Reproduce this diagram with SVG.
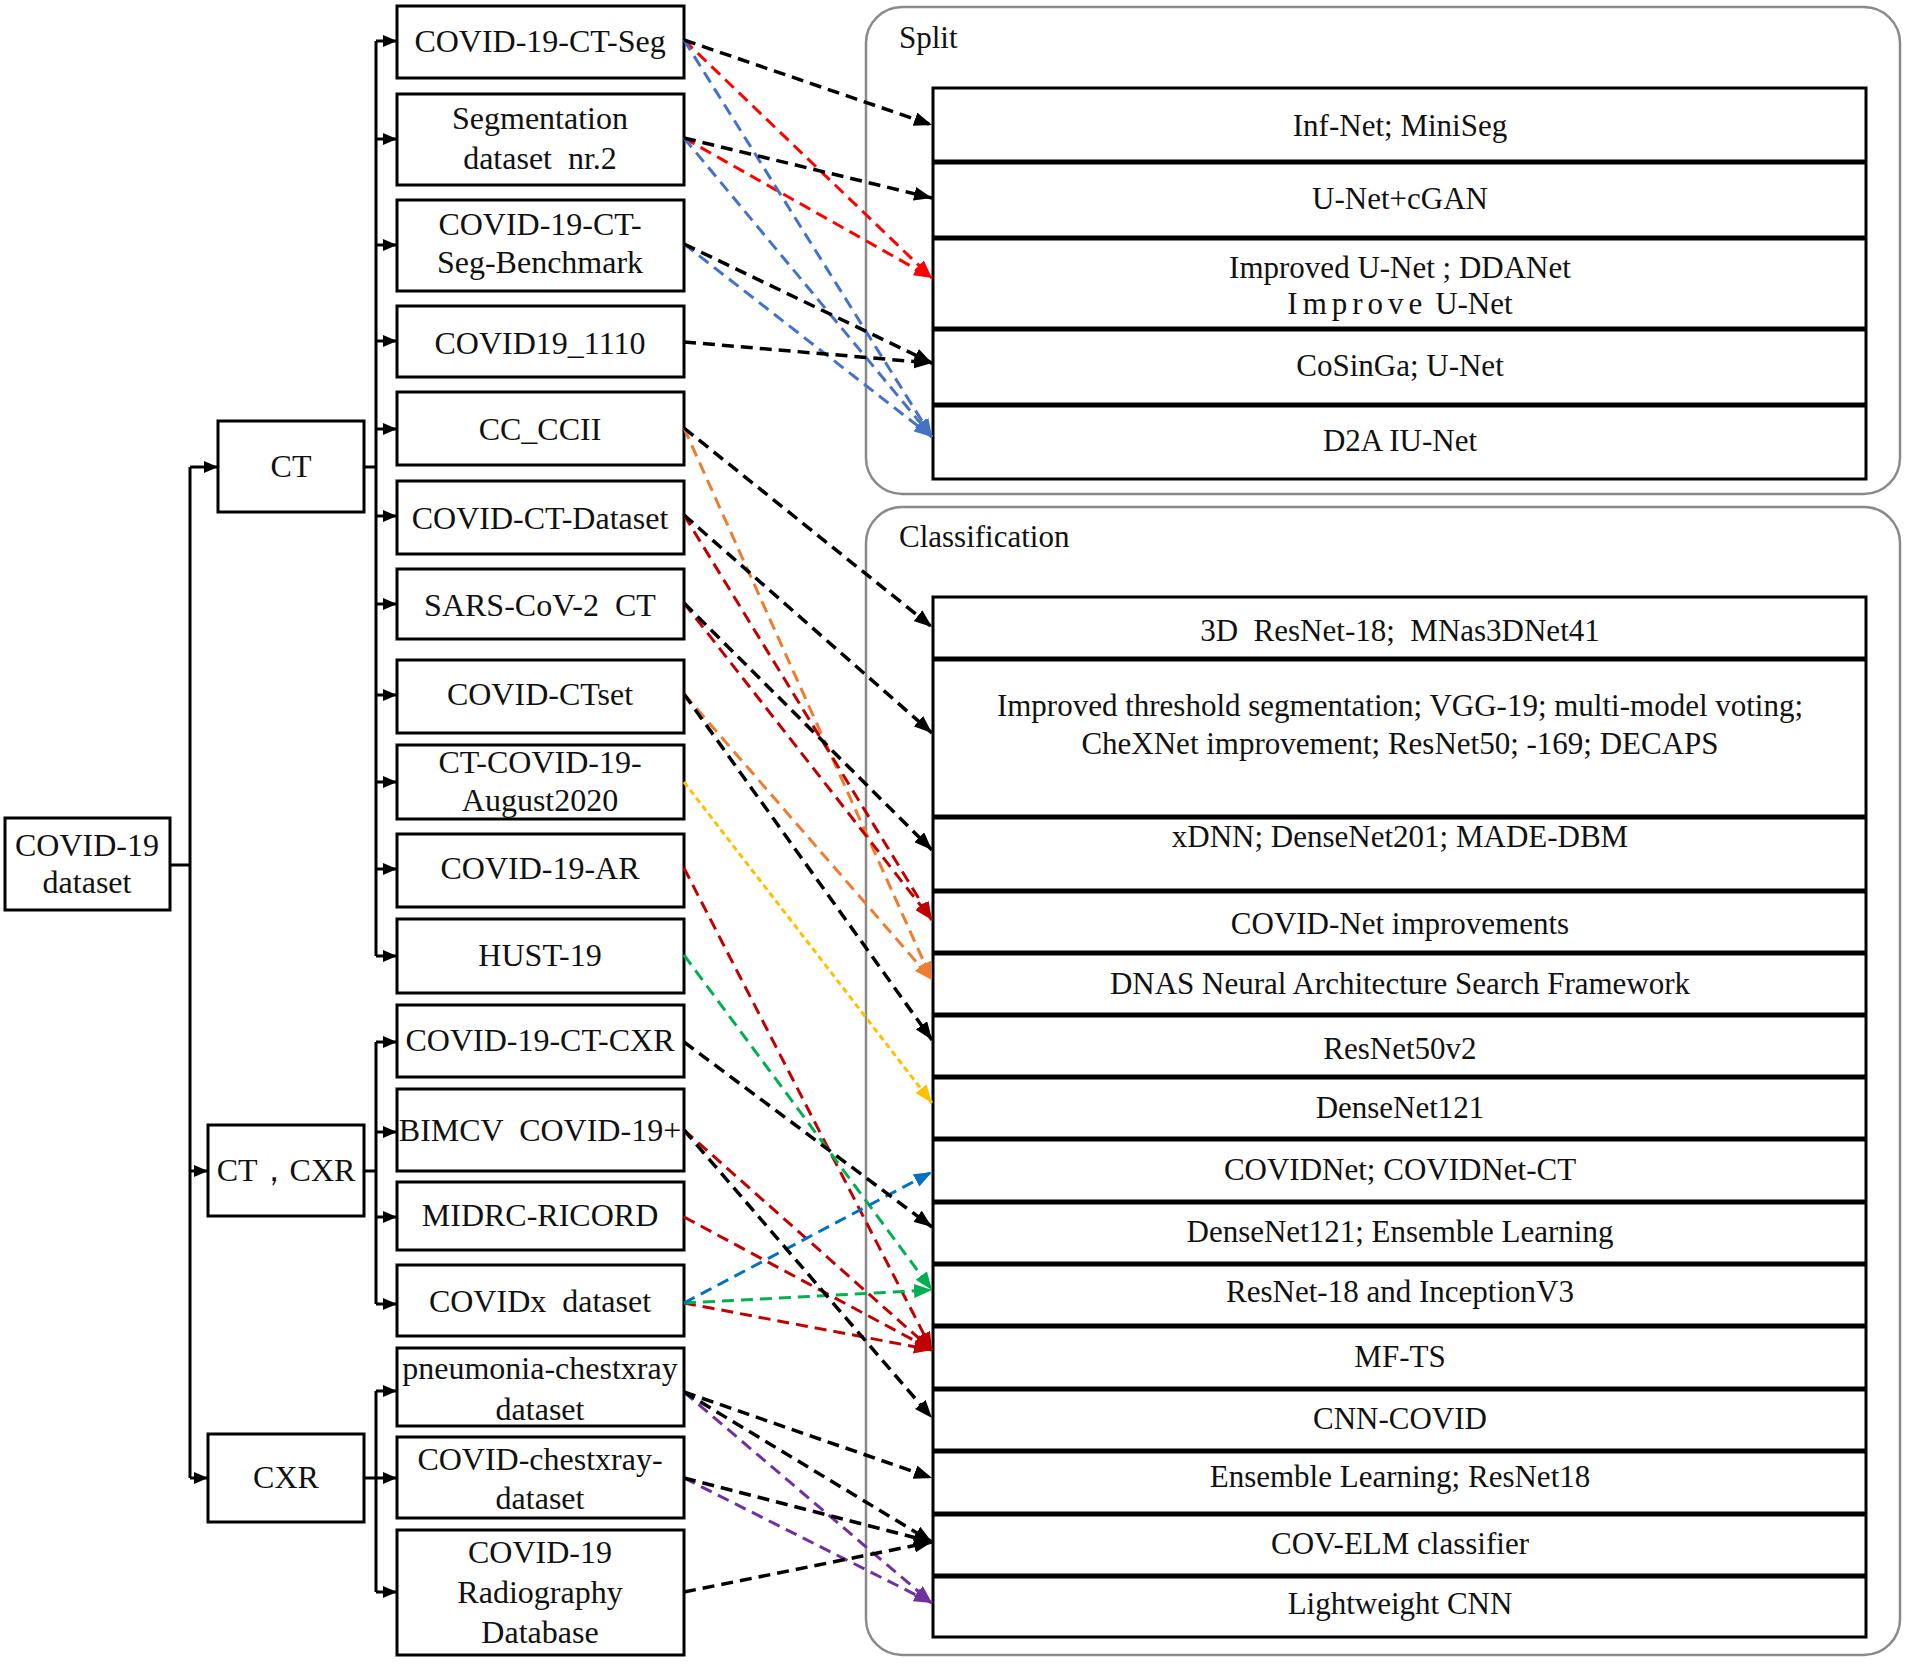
<svg xmlns="http://www.w3.org/2000/svg" width="1910" height="1665" viewBox="0 0 1910 1665">
<style>
text{font-family:"Liberation Serif","Times New Roman",serif;fill:#111;white-space:pre}
.l{font-size:32px;text-anchor:middle;dominant-baseline:central}
.r{font-size:31px;text-anchor:middle;dominant-baseline:central}
.t{font-size:31px;text-anchor:start;dominant-baseline:central}
.box{fill:#fff;stroke:#000;stroke-width:3}
.row{fill:#fff;stroke:#000;stroke-width:3}
.sep{stroke:#000;stroke-width:5}
.cont{fill:none;stroke:#8a8a8a;stroke-width:2.5}
.tree{fill:none;stroke:#000;stroke-width:3}
.d{fill:none;stroke-width:3;stroke-dasharray:12 7}
.k{stroke:#000;stroke-width:3.5;marker-end:url(#mk)}
.rd{stroke:#ff0000;marker-end:url(#mr)}
.bl{stroke:#4472c4;marker-end:url(#mb)}
.dr{stroke:#c00000;marker-end:url(#md)}
.or{stroke:#ed7d31;marker-end:url(#mo)}
.ye{stroke:#ffc000;stroke-dasharray:6 4;marker-end:url(#my)}
.gr{stroke:#00b050;marker-end:url(#mg)}
.bu{stroke:#0070c0;marker-end:url(#mu)}
.pu{stroke:#7030a0;marker-end:url(#mp)}
</style>
<defs>
<marker id="ta" markerUnits="userSpaceOnUse" markerWidth="14" markerHeight="12" refX="14" refY="6" orient="auto"><path d="M0,0L14,6L0,12z" fill="#000"/></marker>
<marker id="mk" markerUnits="userSpaceOnUse" markerWidth="18" markerHeight="14" refX="18" refY="7" orient="auto"><path d="M0,0L18,7L0,14z" fill="#000"/></marker>
<marker id="mr" markerUnits="userSpaceOnUse" markerWidth="18" markerHeight="14" refX="18" refY="7" orient="auto"><path d="M0,0L18,7L0,14z" fill="#ff0000"/></marker>
<marker id="mb" markerUnits="userSpaceOnUse" markerWidth="18" markerHeight="14" refX="18" refY="7" orient="auto"><path d="M0,0L18,7L0,14z" fill="#4472c4"/></marker>
<marker id="md" markerUnits="userSpaceOnUse" markerWidth="18" markerHeight="14" refX="18" refY="7" orient="auto"><path d="M0,0L18,7L0,14z" fill="#c00000"/></marker>
<marker id="mo" markerUnits="userSpaceOnUse" markerWidth="18" markerHeight="14" refX="18" refY="7" orient="auto"><path d="M0,0L18,7L0,14z" fill="#ed7d31"/></marker>
<marker id="my" markerUnits="userSpaceOnUse" markerWidth="18" markerHeight="14" refX="18" refY="7" orient="auto"><path d="M0,0L18,7L0,14z" fill="#ffc000"/></marker>
<marker id="mg" markerUnits="userSpaceOnUse" markerWidth="18" markerHeight="14" refX="18" refY="7" orient="auto"><path d="M0,0L18,7L0,14z" fill="#00b050"/></marker>
<marker id="mu" markerUnits="userSpaceOnUse" markerWidth="18" markerHeight="14" refX="18" refY="7" orient="auto"><path d="M0,0L18,7L0,14z" fill="#0070c0"/></marker>
<marker id="mp" markerUnits="userSpaceOnUse" markerWidth="18" markerHeight="14" refX="18" refY="7" orient="auto"><path d="M0,0L18,7L0,14z" fill="#7030a0"/></marker>
</defs>
<rect width="1910" height="1665" fill="#fff"/>

<g id="split">
<rect class="cont" x="866" y="7" width="1034" height="487" rx="36"/>
<text class="t" x="899" y="37">Split</text>
<rect class="row" x="933" y="88" width="933" height="391"/>
<line class="sep" x1="933" y1="162" x2="1866" y2="162"/>
<line class="sep" x1="933" y1="238" x2="1866" y2="238"/>
<line class="sep" x1="933" y1="329" x2="1866" y2="329"/>
<line class="sep" x1="933" y1="405" x2="1866" y2="405"/>
</g>
<g id="s1"><text class="r" x="1400" y="125">Inf-Net; MiniSeg</text></g>
<g id="s2"><text class="r" x="1400" y="198">U-Net+cGAN</text></g>
<g id="s3"><text class="r" x="1400" y="267">Improved U-Net ; DDANet</text><text class="r" x="1400" y="303"><tspan letter-spacing="5">Improve</tspan> U-Net</text></g>
<g id="s4"><text class="r" x="1400" y="365">CoSinGa; U-Net</text></g>
<g id="s5"><text class="r" x="1400" y="440">D2A IU-Net</text></g>

<g id="classification">
<rect class="cont" x="866" y="507" width="1034" height="1148" rx="36"/>
<text class="t" x="899" y="536">Classification</text>
<rect class="row" x="933" y="597" width="933" height="1040"/>
<line class="sep" x1="933" y1="659" x2="1866" y2="659"/>
<line class="sep" x1="933" y1="817" x2="1866" y2="817"/>
<line class="sep" x1="933" y1="891" x2="1866" y2="891"/>
<line class="sep" x1="933" y1="953" x2="1866" y2="953"/>
<line class="sep" x1="933" y1="1015" x2="1866" y2="1015"/>
<line class="sep" x1="933" y1="1077" x2="1866" y2="1077"/>
<line class="sep" x1="933" y1="1139" x2="1866" y2="1139"/>
<line class="sep" x1="933" y1="1202" x2="1866" y2="1202"/>
<line class="sep" x1="933" y1="1264" x2="1866" y2="1264"/>
<line class="sep" x1="933" y1="1326" x2="1866" y2="1326"/>
<line class="sep" x1="933" y1="1389" x2="1866" y2="1389"/>
<line class="sep" x1="933" y1="1451" x2="1866" y2="1451"/>
<line class="sep" x1="933" y1="1514" x2="1866" y2="1514"/>
<line class="sep" x1="933" y1="1576" x2="1866" y2="1576"/>
</g>
<g id="c1"><text class="r" x="1400" y="630">3D  ResNet-18;  MNas3DNet41</text></g>
<g id="c2"><text class="r" x="1400" y="705">Improved threshold segmentation; VGG-19; multi-model voting;</text><text class="r" x="1400" y="743">CheXNet improvement; ResNet50; -169; DECAPS</text></g>
<g id="c3"><text class="r" x="1400" y="836">xDNN; DenseNet201; MADE-DBM</text></g>
<g id="c4"><text class="r" x="1400" y="923">COVID-Net improvements</text></g>
<g id="c5"><text class="r" x="1400" y="983">DNAS Neural Architecture Search Framework</text></g>
<g id="c6"><text class="r" x="1400" y="1048">ResNet50v2</text></g>
<g id="c7"><text class="r" x="1400" y="1107">DenseNet121</text></g>
<g id="c8"><text class="r" x="1400" y="1169">COVIDNet; COVIDNet-CT</text></g>
<g id="c9"><text class="r" x="1400" y="1231">DenseNet121; Ensemble Learning</text></g>
<g id="c10"><text class="r" x="1400" y="1291">ResNet-18 and InceptionV3</text></g>
<g id="c11"><text class="r" x="1400" y="1356">MF-TS</text></g>
<g id="c12"><text class="r" x="1400" y="1418">CNN-COVID</text></g>
<g id="c13"><text class="r" x="1400" y="1476">Ensemble Learning; ResNet18</text></g>
<g id="c14"><text class="r" x="1400" y="1543">COV-ELM classifier</text></g>
<g id="c15"><text class="r" x="1400" y="1603">Lightweight CNN</text></g>

<g id="root"><rect class="box" x="5" y="818" width="165" height="92"/><text class="l" x="87" y="845">COVID-19</text><text class="l" x="87" y="882">dataset</text></g>
<g id="ct"><rect class="box" x="218" y="421" width="146" height="91"/><text class="l" x="291" y="466">CT</text></g>
<g id="ctcxr"><rect class="box" x="208" y="1125" width="156" height="91"/><text class="l" x="286" y="1170">CT，CXR</text></g>
<g id="cxr"><rect class="box" x="208" y="1434" width="156" height="88"/><text class="l" x="286" y="1477">CXR</text></g>

<g id="n1"><rect class="box" x="397" y="6" width="287" height="72"/><text class="l" x="540" y="41">COVID-19-CT-Seg</text></g>
<g id="n2"><rect class="box" x="397" y="94" width="287" height="91"/><text class="l" x="540" y="118">Segmentation</text><text class="l" x="540" y="158">dataset  nr.2</text></g>
<g id="n3"><rect class="box" x="397" y="200" width="287" height="91"/><text class="l" x="540" y="224">COVID-19-CT-</text><text class="l" x="540" y="262">Seg-Benchmark</text></g>
<g id="n4"><rect class="box" x="397" y="306" width="287" height="71"/><text class="l" x="540" y="343">COVID19_1110</text></g>
<g id="n5"><rect class="box" x="397" y="392" width="287" height="73"/><text class="l" x="540" y="429">CC_CCII</text></g>
<g id="n6"><rect class="box" x="397" y="481" width="287" height="73"/><text class="l" x="540" y="518">COVID-CT-Dataset</text></g>
<g id="n7"><rect class="box" x="397" y="569" width="287" height="70"/><text class="l" x="540" y="605">SARS-CoV-2  CT</text></g>
<g id="n8"><rect class="box" x="397" y="660" width="287" height="73"/><text class="l" x="540" y="694">COVID-CTset</text></g>
<g id="n9"><rect class="box" x="397" y="745" width="287" height="74"/><text class="l" x="540" y="762">CT-COVID-19-</text><text class="l" x="540" y="800">August2020</text></g>
<g id="n10"><rect class="box" x="397" y="834" width="287" height="73"/><text class="l" x="540" y="868">COVID-19-AR</text></g>
<g id="n11"><rect class="box" x="397" y="919" width="287" height="74"/><text class="l" x="540" y="955">HUST-19</text></g>
<g id="n12"><rect class="box" x="397" y="1005" width="287" height="72"/><text class="l" x="540" y="1040">COVID-19-CT-CXR</text></g>
<g id="n13"><rect class="box" x="397" y="1089" width="287" height="82"/><text class="l" x="540" y="1130">BIMCV  COVID-19+</text></g>
<g id="n14"><rect class="box" x="397" y="1182" width="287" height="68"/><text class="l" x="540" y="1215">MIDRC-RICORD</text></g>
<g id="n15"><rect class="box" x="397" y="1265" width="287" height="71"/><text class="l" x="540" y="1301">COVIDx  dataset</text></g>
<g id="n16"><rect class="box" x="397" y="1348" width="287" height="78"/><text class="l" x="540" y="1368">pneumonia-chestxray</text><text class="l" x="540" y="1409">dataset</text></g>
<g id="n17"><rect class="box" x="397" y="1437" width="287" height="81"/><text class="l" x="540" y="1459">COVID-chestxray-</text><text class="l" x="540" y="1498">dataset</text></g>
<g id="n18"><rect class="box" x="397" y="1530" width="287" height="125"/><text class="l" x="540" y="1552">COVID-19</text><text class="l" x="540" y="1592">Radiography</text><text class="l" x="540" y="1632">Database</text></g>

<g id="connectors">
<path class="tree" d="M170 865H190M190 467V1478M364 467H376M376 41V956M364 1171H376M376 1042V1304M364 1478H376M376 1391V1592"/>
<g class="tree" marker-end="url(#ta)">
<path d="M190 467H218"/><path d="M190 1171H208"/><path d="M190 1478H208"/>
<path d="M376 41H397"/><path d="M376 139H397"/><path d="M376 245H397"/><path d="M376 341H397"/><path d="M376 429H397"/><path d="M376 516H397"/><path d="M376 604H397"/><path d="M376 695H397"/><path d="M376 782H397"/><path d="M376 869H397"/><path d="M376 956H397"/>
<path d="M376 1042H397"/><path d="M376 1132H397"/><path d="M376 1217H397"/><path d="M376 1304H397"/>
<path d="M376 1391H397"/><path d="M376 1478H397"/><path d="M376 1592H397"/>
</g>
<path class="d rd" d="M684 40L932 278"/>
<path class="d rd" d="M684 138L932 278"/>
<path class="d bl" d="M684 40L932 437"/>
<path class="d bl" d="M684 138L932 437"/>
<path class="d bl" d="M684 244L932 437"/>
<path class="d k" d="M684 40L932 125"/>
<path class="d k" d="M684 138L932 198"/>
<path class="d k" d="M684 244L932 363"/>
<path class="d k" d="M684 342L932 363"/>
<path class="d or" d="M684 428L932 980"/>
<path class="d or" d="M684 694L932 980"/>
<path class="d dr" d="M684 515L932 920"/>
<path class="d dr" d="M684 603L932 920"/>
<path class="d ye" d="M684 782L932 1103"/>
<path class="d dr" d="M684 868L932 1350"/>
<path class="d gr" d="M684 955L932 1290"/>
<path class="d dr" d="M684 1130L932 1350"/>
<path class="d dr" d="M684 1217L932 1350"/>
<path class="d dr" d="M684 1303L932 1350"/>
<path class="d gr" d="M684 1303L932 1290"/>
<path class="d bu" d="M684 1303L932 1172"/>
<path class="d k" d="M684 428L932 627"/>
<path class="d k" d="M684 515L932 733"/>
<path class="d k" d="M684 603L932 850"/>
<path class="d k" d="M684 694L932 1040"/>
<path class="d k" d="M684 1042L932 1227"/>
<path class="d k" d="M684 1130L932 1418"/>
<path class="d pu" d="M684 1392L932 1603"/>
<path class="d pu" d="M684 1478L932 1603"/>
<path class="d k" d="M684 1392L932 1478"/>
<path class="d k" d="M684 1392L932 1542"/>
<path class="d k" d="M684 1478L932 1542"/>
<path class="d k" d="M684 1592L932 1542"/>
</g>
</svg>
